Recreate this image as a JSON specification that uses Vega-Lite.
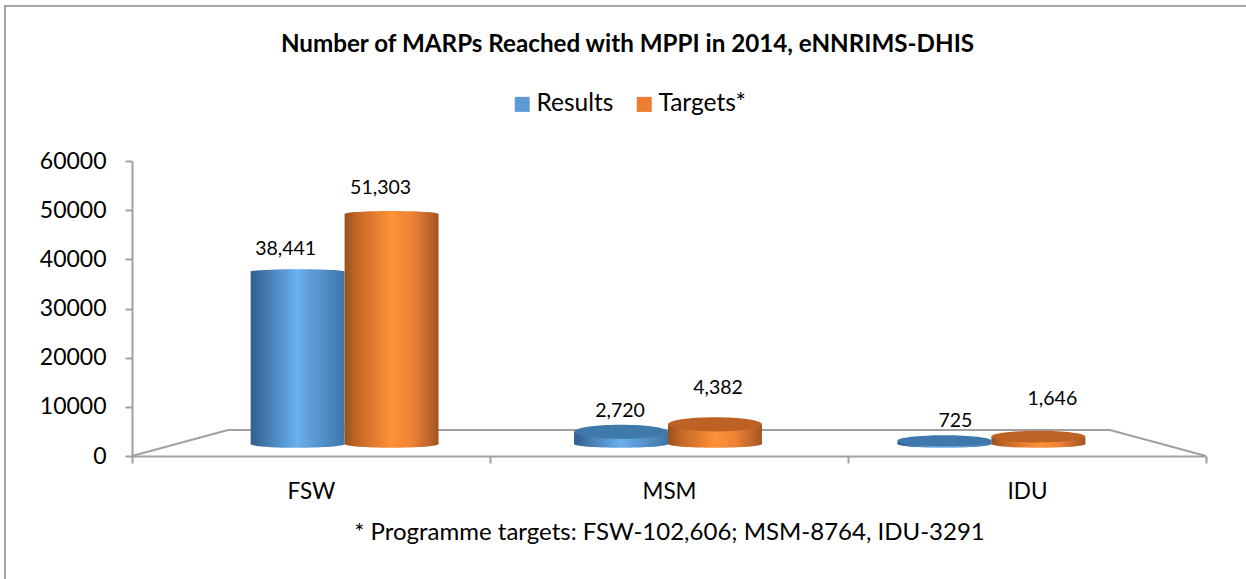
{
"$schema":"https://vega.github.io/schema/vega-lite/v6.json",
"width":1243,"height":575,"padding":{"left":5,"top":6,"right":0,"bottom":0},"autosize":"none",
"background":"white",
"config":{"view":{"stroke":"#a6a6a6","strokeWidth":2},"font":"Lato"},
"title":{"text":"Number of MARPs Reached with MPPI in 2014, eNNRIMS-DHIS","font":"Lato","fontSize":24.2,"fontWeight":"bold","color":"#000000","anchor":"middle","frame":"group","offset":-51,"dx":1},
"data":{"values":[
{"g":"FSW","s":"Results","v":38441},{"g":"FSW","s":"Targets*","v":51303},
{"g":"MSM","s":"Results","v":2720},{"g":"MSM","s":"Targets*","v":4382},
{"g":"IDU","s":"Results","v":725},{"g":"IDU","s":"Targets*","v":1646}]},
"resolve":{"scale":{"x":"independent","y":"independent"},"axis":{"x":"independent","y":"independent"}},
"layer":[
{"mark":{"type":"bar","opacity":0},
 "encoding":{
  "x":{"field":"g","type":"nominal","scale":{"domain":["FSW","MSM","IDU"],"range":[127,1201],"paddingInner":0,"paddingOuter":0},
   "axis":{"title":"* Programme targets: FSW-102,606; MSM-8764, IDU-3291","titleFont":"Lato","titleFontSize":24,"titleFontWeight":"normal","titleColor":"#000000","titleX":664,"titleY":64,"labelAngle":0,"labelFont":"Lato","labelFontSize":22.5,"labelColor":"#000000","labelPadding":17,"tickBand":"extent","tickColor":"#a0a0a0","tickWidth":2,"tickSize":7,"domainColor":"#a0a0a0","domainWidth":2,"offset":-125,"grid":false}},
  "y":{"field":"v","type":"quantitative","stack":null,"scale":{"domain":[0,60000],"range":[450,155],"nice":false},
   "axis":{"title":null,"values":[0,10000,20000,30000,40000,50000,60000],"format":"d","labelFont":"Lato","labelFontSize":23,"labelColor":"#000000","labelPadding":19,"tickColor":"#a0a0a0","tickWidth":2,"tickSize":7,"domainColor":"#a0a0a0","domainWidth":2,"offset":-127,"grid":false}},
  "color":{"field":"s","type":"nominal","scale":{"domain":["Results","Targets*"],"range":["#5b9bd5","#ed7d31"]},
   "legend":{"title":null,"orient":"none","legendX":505,"legendY":86,"direction":"horizontal","symbolType":"square","symbolSize":225,"symbolOpacity":1,"symbolStrokeWidth":0,"labelFont":"Lato","labelFontSize":24.5,"labelColor":"#000000","columnPadding":18,"labelOffset":2}}
 }},
{"data":{"values":[{"p":0,"l":0},{"p":0.268,"l":5288},{"p":2.732,"l":5288},{"p":3,"l":0}]},
 "mark":{"type":"line","color":"#a0a0a0","strokeWidth":2},
 "encoding":{
  "x":{"field":"p","type":"quantitative","axis":null,"scale":{"domain":[0,3],"range":[127,1201],"nice":false,"zero":false}},
  "y":{"field":"l","type":"quantitative","axis":null,"scale":{"domain":[0,60000],"range":[450,155],"nice":false}}
 }},
{"encoding":{
  "x":{"field":"g","type":"nominal","axis":null,"scale":{"domain":["FSW","MSM","IDU"],"range":[126,1200],"paddingInner":0.419,"paddingOuter":0.37}},
  "xOffset":{"field":"s","type":"nominal","scale":{"domain":["Results","Targets*"],"paddingInner":0,"paddingOuter":0}},
  "y":{"field":"v","type":"quantitative","stack":null,"axis":null,"scale":{"domain":[-2677,63127],"range":[450,155],"nice":false,"zero":false}}
 },
 "layer":[
 {"transform":[{"filter":"datum.s=='Results'"}],"mark":{"type":"point","filled":true,"opacity":1,"strokeWidth":0,"size":8836,"shape":"M -1 0 A 1 0.08 0 1 0 1 0 A 1 0.08 0 1 0 -1 0 Z","color":{"x1":0,"x2":1,"y1":0,"y2":0,"gradient":"linear","stops":[{"offset":0,"color":"#2f5f8c"},{"offset":0.5,"color":"#6bb0f0"},{"offset":0.62,"color":"#5f9fdc"},{"offset":1,"color":"#3f76a6"}]}},"encoding":{"y":{"datum":0}}},
 {"transform":[{"filter":"datum.s=='Targets*'"}],"mark":{"type":"point","filled":true,"opacity":1,"strokeWidth":0,"size":8836,"shape":"M -1 0 A 1 0.08 0 1 0 1 0 A 1 0.08 0 1 0 -1 0 Z","color":{"x1":0,"x2":1,"y1":0,"y2":0,"gradient":"linear","stops":[{"offset":0,"color":"#97501e"},{"offset":0.12,"color":"#c06526"},{"offset":0.5,"color":"#ff9138"},{"offset":0.72,"color":"#ee8135"},{"offset":0.92,"color":"#b9632a"},{"offset":1,"color":"#a0541f"}]}},"encoding":{"y":{"datum":0}}},
 {"transform":[{"filter":"datum.s=='Results'"}],"mark":{"type":"bar","color":{"x1":0,"x2":1,"y1":0,"y2":0,"gradient":"linear","stops":[{"offset":0,"color":"#2f5f8c"},{"offset":0.5,"color":"#6bb0f0"},{"offset":0.62,"color":"#5f9fdc"},{"offset":1,"color":"#3f76a6"}]}},"encoding":{"y2":{"datum":0}}},
 {"transform":[{"filter":"datum.s=='Targets*'"}],"mark":{"type":"bar","color":{"x1":0,"x2":1,"y1":0,"y2":0,"gradient":"linear","stops":[{"offset":0,"color":"#97501e"},{"offset":0.12,"color":"#c06526"},{"offset":0.5,"color":"#ff9138"},{"offset":0.72,"color":"#ee8135"},{"offset":0.92,"color":"#b9632a"},{"offset":1,"color":"#a0541f"}]}},"encoding":{"y2":{"datum":0}}},
 {"transform":[{"filter":"datum.s=='Results'&&datum.g=='FSW'"}],"mark":{"type":"point","filled":true,"opacity":1,"strokeWidth":0,"size":8836,"shape":"M -1 0 A 1 0.05 0 1 0 1 0 A 1 0.05 0 1 0 -1 0 Z","color":{"x1":0,"x2":1,"y1":0,"y2":0,"gradient":"linear","stops":[{"offset":0,"color":"#2f5f8c"},{"offset":0.5,"color":"#6bb0f0"},{"offset":0.62,"color":"#5f9fdc"},{"offset":1,"color":"#3f76a6"}]}}},
 {"transform":[{"filter":"datum.s=='Targets*'&&datum.g=='FSW'"}],"mark":{"type":"point","filled":true,"opacity":1,"strokeWidth":0,"size":8836,"shape":"M -1 0 A 1 0.065 0 1 0 1 0 A 1 0.065 0 1 0 -1 0 Z","color":{"x1":0,"x2":1,"y1":0,"y2":0,"gradient":"linear","stops":[{"offset":0,"color":"#97501e"},{"offset":0.12,"color":"#c06526"},{"offset":0.5,"color":"#ff9138"},{"offset":0.72,"color":"#ee8135"},{"offset":0.92,"color":"#b9632a"},{"offset":1,"color":"#a0541f"}]}}},
 {"transform":[{"filter":"datum.s=='Results'&&datum.g=='MSM'"}],"mark":{"type":"point","filled":true,"opacity":1,"strokeWidth":0,"size":8836,"color":"#3f78ab","shape":"M -1 0 A 1 0.15 0 1 0 1 0 A 1 0.15 0 1 0 -1 0 Z"}},
 {"transform":[{"filter":"datum.s=='Targets*'&&datum.g=='MSM'"}],"mark":{"type":"point","filled":true,"opacity":1,"strokeWidth":0,"size":8836,"color":"#bd6125","shape":"M -1 0 A 1 0.15 0 1 0 1 0 A 1 0.15 0 1 0 -1 0 Z"}},
 {"transform":[{"filter":"datum.s=='Results'&&datum.g=='IDU'"}],"mark":{"type":"point","filled":true,"opacity":1,"strokeWidth":0,"size":8836,"color":"#3f78ab","shape":"M -1 0 A 1 0.115 0 1 0 1 0 A 1 0.115 0 1 0 -1 0 Z"}},
 {"transform":[{"filter":"datum.s=='Targets*'&&datum.g=='IDU'"}],"mark":{"type":"point","filled":true,"opacity":1,"strokeWidth":0,"size":8836,"color":"#bd6125","shape":"M -1 0 A 1 0.125 0 1 0 1 0 A 1 0.125 0 1 0 -1 0 Z"}},
 {"transform":[{"filter":"datum.s=='Results'&&datum.g=='FSW'"}],"mark":{"type":"text","font":"Lato","fontSize":19.5,"color":"#000000","baseline":"middle","dx":-12,"dy":-23},"encoding":{"text":{"field":"v","type":"quantitative","format":","}}},
 {"transform":[{"filter":"datum.s=='Targets*'&&datum.g=='FSW'"}],"mark":{"type":"text","font":"Lato","fontSize":19.5,"color":"#000000","baseline":"middle","dx":-11,"dy":-26},"encoding":{"text":{"field":"v","type":"quantitative","format":","}}},
 {"transform":[{"filter":"datum.s=='Results'&&datum.g=='MSM'"}],"mark":{"type":"text","font":"Lato","fontSize":19.5,"color":"#000000","baseline":"middle","dx":-1,"dy":-21},"encoding":{"text":{"field":"v","type":"quantitative","format":","}}},
 {"transform":[{"filter":"datum.s=='Targets*'&&datum.g=='MSM'"}],"mark":{"type":"text","font":"Lato","fontSize":19.5,"color":"#000000","baseline":"middle","dx":3,"dy":-36},"encoding":{"text":{"field":"v","type":"quantitative","format":","}}},
 {"transform":[{"filter":"datum.s=='Results'&&datum.g=='IDU'"}],"mark":{"type":"text","font":"Lato","fontSize":19.5,"color":"#000000","baseline":"middle","dx":11,"dy":-20},"encoding":{"text":{"field":"v","type":"quantitative","format":","}}},
 {"transform":[{"filter":"datum.s=='Targets*'&&datum.g=='IDU'"}],"mark":{"type":"text","font":"Lato","fontSize":19.5,"color":"#000000","baseline":"middle","dx":14,"dy":-38},"encoding":{"text":{"field":"v","type":"quantitative","format":","}}}
 ]}
]
}
